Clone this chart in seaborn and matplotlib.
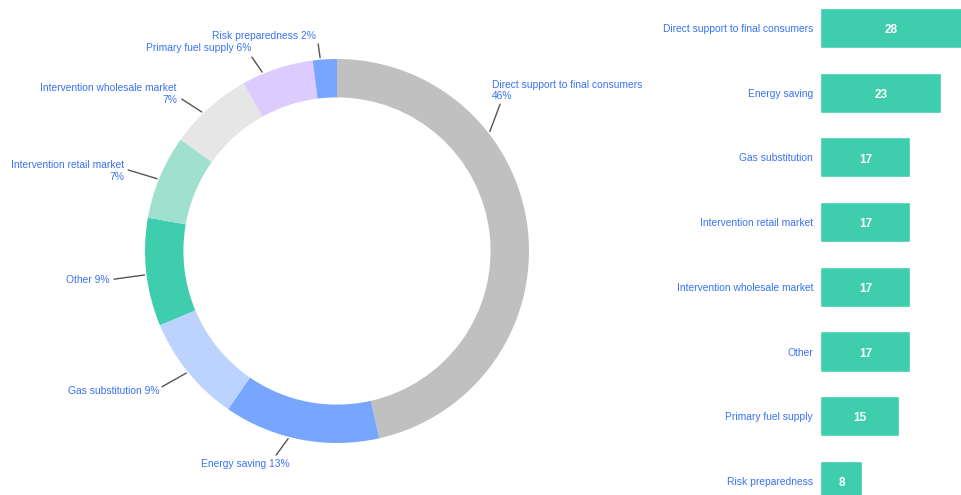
import numpy as np
import pandas as pd
import matplotlib
matplotlib.use("Agg")
import matplotlib.pyplot as plt
import seaborn as sns

# ------------------------------
# data
# ------------------------------
pie_labels = ["Direct support to final consumers", "Energy saving", "Gas substitution",
              "Other", "Intervention retail market", "Intervention wholesale market",
              "Primary fuel supply", "Risk preparedness"]
pie_pct = [46, 13, 9, 9, 7, 7, 6, 2]
pie_colors = ["#c0c0c0", "#78a6ff", "#bcd2ff", "#3ecdad", "#a0e0cf", "#e6e6e6",
              "#dccbff", "#78a6ff"]

bar_labels = ["Direct support to final consumers", "Energy saving", "Gas substitution",
              "Intervention retail market", "Intervention wholesale market", "Other",
              "Primary fuel supply", "Risk preparedness"]
bar_values = [28, 23, 17, 17, 17, 17, 15, 8]

BLUE = "#3a72f5"
BAR = "#3ecdad"
FS = 7.4

sns.set_theme(style="white")
plt.rcParams["font.family"] = ["Liberation Sans", "DejaVu Sans"]

W, H = 961, 495
fig = plt.figure(figsize=(W / 100, H / 100), dpi=100)

# ------------------------------
# donut
# ------------------------------
R = 192.0          # outer radius in px
cx, cy = 337, 251  # center in px (from top-left)
ax = fig.add_axes([0, 0, 1, 1])
ax.axis("off")

wedges, _ = ax.pie(pie_pct, colors=pie_colors, startangle=90, counterclock=False,
                   radius=1.0, wedgeprops=dict(width=0.2, linewidth=0))
ax.set_xlim(-cx / R, (W - cx) / R)
ax.set_ylim(-(H - cy) / R, cy / R)
ax.set_aspect("auto")

# label layout: tick start angle, tick end angle, tick end radius,
# ha, va, text offset in px (dx, dy up)
layout = {
    "Direct support to final consumers": (38, 42, 1.143, "left", "bottom", -8, 3),
    "Energy saving": (-104.6, -106.6, 1.109, "center", "top", -31, -4),
    "Gas substitution": (-141, -142.2, 1.154, "right", "center", -2, -4),
    "Other": (-172.9, -172.8, 1.171, "right", "center", -4, -1),
    "Intervention retail market": (158.1, 158.8, 1.167, "right", "center", -4, -1),
    "Intervention wholesale market": (134.2, 135.6, 1.131, "right", "center", -5, 5),
    "Primary fuel supply": (112.7, 113.7, 1.103, "right", "center", -1, 9),
    "Risk preparedness": (95, 95.2, 1.083, "right", "center", -2, 8),
}
multiline = {"Direct support to final consumers", "Intervention wholesale market",
             "Intervention retail market"}

for lab, pct in zip(pie_labels, pie_pct):
    a0, a1, r1, ha, va, dx, dy = layout[lab]
    a0, a1 = np.deg2rad(a0), np.deg2rad(a1)
    x0, y0 = 1.01 * np.cos(a0), 1.01 * np.sin(a0)
    x1, y1 = r1 * np.cos(a1), r1 * np.sin(a1)
    ax.plot([x0, x1], [y0, y1], color="#555555", lw=1)
    sep = "\n" if lab in multiline else " "
    ax.text(x1 + dx / R, y1 + dy / R, f"{lab}{sep}{pct}%", ha=ha, va=va,
            color=BLUE, fontsize=FS, linespacing=1.2,
            multialignment="left" if ha == "left" else "right")

# ------------------------------
# bars
# ------------------------------
px_per_unit = 5.27
step = 64.7
first = 28
bx = fig.add_axes([820 / W, 0, (W - 820) / W, 1])
df = pd.DataFrame({"label": bar_labels, "value": bar_values})
sns.barplot(data=df, x="value", y="label", orient="h", color=BAR, width=0.62,
            saturation=1, ax=bx)
bx.set_xlim(0, (W - 820) / px_per_unit)
bx.set_ylim((H - first) / step, -first / step)
for s in bx.spines.values():
    s.set_visible(False)
bx.set_xticks([])
bx.set_xlabel("")
bx.set_ylabel("")
bx.tick_params(axis="y", length=0, pad=5, labelsize=FS, labelcolor=BLUE)

xmax = bx.get_xlim()[1]
for i, v in enumerate(bar_values):
    bx.text(min(v, xmax) / 2 + 0.1, i + 0.035, str(v), ha="center", va="center",
            color="white", fontweight="bold", fontsize=8.5)

fig.savefig("out.png", dpi=100)
